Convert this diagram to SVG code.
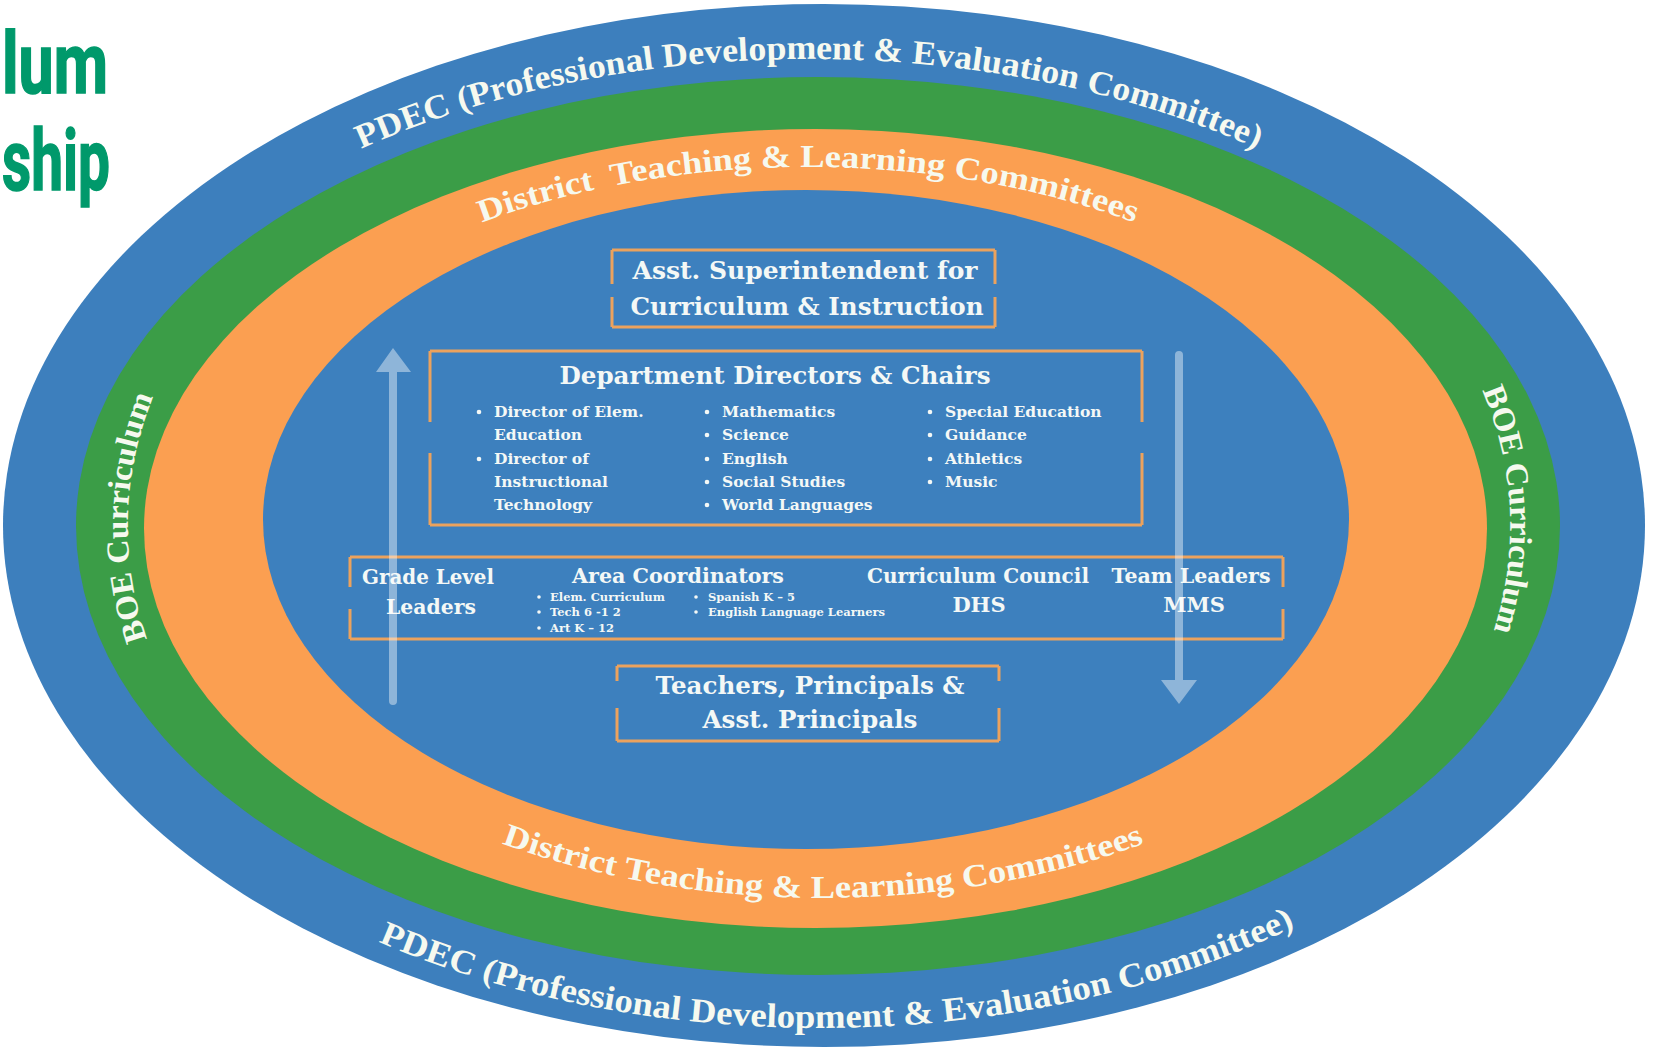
<svg xmlns="http://www.w3.org/2000/svg" width="1653" height="1050" viewBox="0 0 1653 1050">
<style>
.ring-t{font-family:"Liberation Serif","Times New Roman",serif;font-weight:700;fill:#f6f9ef;}
.hd{font-family:"DejaVu Serif","Liberation Serif",serif;font-weight:700;fill:#f4f8f6;text-anchor:middle;}
.bl{font-family:"DejaVu Serif","Liberation Serif",serif;font-weight:700;fill:#f4f8f6;font-size:15.5px;}
.sb{font-family:"DejaVu Serif","Liberation Serif",serif;font-weight:700;fill:#f4f8f6;font-size:11.5px;}
.box{fill:none;stroke:#eca25d;stroke-width:3;}
.arrow{fill:#ffffff;fill-opacity:0.42;}
.dot{fill:#f4f8f6;}
.title{font-family:Roboto,"Open Sans",sans-serif;font-weight:700;fill:#00996b;stroke:#00996b;stroke-width:1.6;font-size:86px;}
</style>
<defs>
<path id="pTop" d="M49,526 A760,467 0 0 1 1569,526"/>
<path id="pBot" d="M32,526 A788,502 0 0 0 1608,526"/>
<path id="oTop" d="M196,528 A612,361 0 0 1 1420,528"/>
<path id="oBot" d="M208,528 A615,370 0 0 0 1438,528"/>
<path id="bLeft" d="M290,835 A691,480 0 0 1 290,217"/>
<path id="bRight" d="M1348,217 A691,480 0 0 1 1348,835"/>
</defs>
<rect width="1653" height="1050" fill="#ffffff"/>

<g id="title">
<text class="title" x="2" y="93" textLength="106" lengthAdjust="spacingAndGlyphs">lum</text>
<text class="title" x="2" y="190" textLength="108" lengthAdjust="spacingAndGlyphs">ship</text>
</g>

<g id="ring-pdec">
<ellipse cx="824" cy="525.5" rx="821" ry="521.5" fill="#3d7fbd"/>
</g>
<g id="ring-boe">
<ellipse cx="818" cy="526" rx="742" ry="449" fill="#3b9d47"/>
</g>
<g id="ring-dtlc">
<ellipse cx="815.5" cy="528.5" rx="671.5" ry="399.5" fill="#fb9f51"/>
</g>
<g id="ring-core">
<ellipse cx="806" cy="519.5" rx="543" ry="329.5" fill="#3d80be"/>
</g>

<g id="ring-labels">
<text class="ring-t" font-size="34" text-anchor="middle"><textPath href="#pTop" startOffset="50%" textLength="920" lengthAdjust="spacingAndGlyphs">PDEC (Professional Development &amp; Evaluation Committee)</textPath></text>
<text class="ring-t" font-size="34" text-anchor="middle"><textPath href="#pBot" startOffset="50.9%" textLength="943" lengthAdjust="spacingAndGlyphs">PDEC (Professional Development &amp; Evaluation Committee)</textPath></text>
<text class="ring-t" font-size="32" text-anchor="middle" xml:space="preserve"><textPath href="#oTop" startOffset="50%" textLength="665" lengthAdjust="spacingAndGlyphs">District  Teaching &amp; Learning Committees</textPath></text>
<text class="ring-t" font-size="32" text-anchor="middle"><textPath href="#oBot" startOffset="50%" textLength="655" lengthAdjust="spacingAndGlyphs">District Teaching &amp; Learning Committees</textPath></text>
<text class="ring-t" font-size="32" text-anchor="middle"><textPath href="#bLeft" startOffset="51.2%" textLength="248" lengthAdjust="spacingAndGlyphs">BOE Curriculum</textPath></text>
<text class="ring-t" font-size="32" text-anchor="middle"><textPath href="#bRight" startOffset="47.7%" textLength="246" lengthAdjust="spacingAndGlyphs">BOE Curriculum</textPath></text>
</g>

<g id="node-asst">
<path class="box" d="M612,250 H995 M612,327 H995 M612,250 V284 M612,297 V327 M995,250 V284 M995,297 V327"/>
<text class="hd" font-size="25" x="805" y="279" textLength="345" lengthAdjust="spacingAndGlyphs">Asst. Superintendent for</text>
<text class="hd" font-size="25" x="807" y="315" textLength="353" lengthAdjust="spacingAndGlyphs">Curriculum &amp; Instruction</text>
</g>

<g id="node-dept">
<path class="box" d="M430,351 H1142 M430,525 H1142 M430,351 V422 M430,453 V525 M1142,351 V422 M1142,453 V525"/>
<text class="hd" font-size="25" x="775" y="384" textLength="431" lengthAdjust="spacingAndGlyphs">Department Directors &amp; Chairs</text>
<circle class="dot" cx="479" cy="412" r="2.3"/>
<circle class="dot" cx="479" cy="459" r="2.3"/>
<text class="bl" x="494" y="417">Director of Elem.</text>
<text class="bl" x="494" y="440">Education</text>
<text class="bl" x="494" y="464">Director of</text>
<text class="bl" x="494" y="487">Instructional</text>
<text class="bl" x="494" y="510">Technology</text>
<circle class="dot" cx="707" cy="412" r="2.3"/>
<circle class="dot" cx="707" cy="435" r="2.3"/>
<circle class="dot" cx="707" cy="459" r="2.3"/>
<circle class="dot" cx="707" cy="482" r="2.3"/>
<circle class="dot" cx="707" cy="505" r="2.3"/>
<text class="bl" x="722" y="417">Mathematics</text>
<text class="bl" x="722" y="440">Science</text>
<text class="bl" x="722" y="464">English</text>
<text class="bl" x="722" y="487">Social Studies</text>
<text class="bl" x="722" y="510">World Languages</text>
<circle class="dot" cx="930" cy="412" r="2.3"/>
<circle class="dot" cx="930" cy="435" r="2.3"/>
<circle class="dot" cx="930" cy="459" r="2.3"/>
<circle class="dot" cx="930" cy="482" r="2.3"/>
<text class="bl" x="945" y="417">Special Education</text>
<text class="bl" x="945" y="440">Guidance</text>
<text class="bl" x="945" y="464">Athletics</text>
<text class="bl" x="945" y="487">Music</text>
</g>

<g id="node-row">
<path class="box" d="M350,557 H1283 M350,639 H1283 M350,557 V587 M350,609 V639 M1283,557 V587 M1283,609 V639"/>
</g>
<g id="node-grade">
<text class="hd" font-size="21" x="428" y="584" textLength="132" lengthAdjust="spacingAndGlyphs">Grade Level</text>
<text class="hd" font-size="21" x="431" y="614" textLength="90" lengthAdjust="spacingAndGlyphs">Leaders</text>
</g>
<g id="node-area">
<text class="hd" font-size="21" x="678" y="583" textLength="212" lengthAdjust="spacingAndGlyphs">Area Coordinators</text>
<circle class="dot" cx="539" cy="597" r="1.8"/>
<circle class="dot" cx="539" cy="612" r="1.8"/>
<circle class="dot" cx="539" cy="628" r="1.8"/>
<text class="sb" x="550" y="601">Elem. Curriculum</text>
<text class="sb" x="550" y="616">Tech 6 -1 2</text>
<text class="sb" x="550" y="632">Art K – 12</text>
<circle class="dot" cx="696" cy="597" r="1.8"/>
<circle class="dot" cx="696" cy="612" r="1.8"/>
<text class="sb" x="708" y="601">Spanish K – 5</text>
<text class="sb" x="708" y="616">English Language Learners</text>
</g>
<g id="node-council">
<text class="hd" font-size="21" x="978" y="583" textLength="222" lengthAdjust="spacingAndGlyphs">Curriculum Council</text>
<text class="hd" font-size="21" x="979" y="612">DHS</text>
</g>
<g id="node-team">
<text class="hd" font-size="21" x="1191" y="583" textLength="159" lengthAdjust="spacingAndGlyphs">Team Leaders</text>
<text class="hd" font-size="21" x="1194" y="612">MMS</text>
</g>

<g id="node-teachers">
<path class="box" d="M617,666 H999 M617,741 H999 M617,666 V681 M617,708 V741 M999,666 V681 M999,708 V741"/>
<text class="hd" font-size="25" x="810" y="694" textLength="309" lengthAdjust="spacingAndGlyphs">Teachers, Principals &amp;</text>
<text class="hd" font-size="25" x="810" y="728" textLength="215" lengthAdjust="spacingAndGlyphs">Asst. Principals</text>
</g>

<g id="connectors">
<path class="arrow" d="M389,372 H376 L393,348 L411,372 H397 V701 A4,4 0 0 1 389,701 Z"/>
<path class="arrow" d="M1175,355 A4,4 0 0 1 1183,355 V680 H1197 L1179,704 L1161,680 H1175 Z"/>
</g>
</svg>
